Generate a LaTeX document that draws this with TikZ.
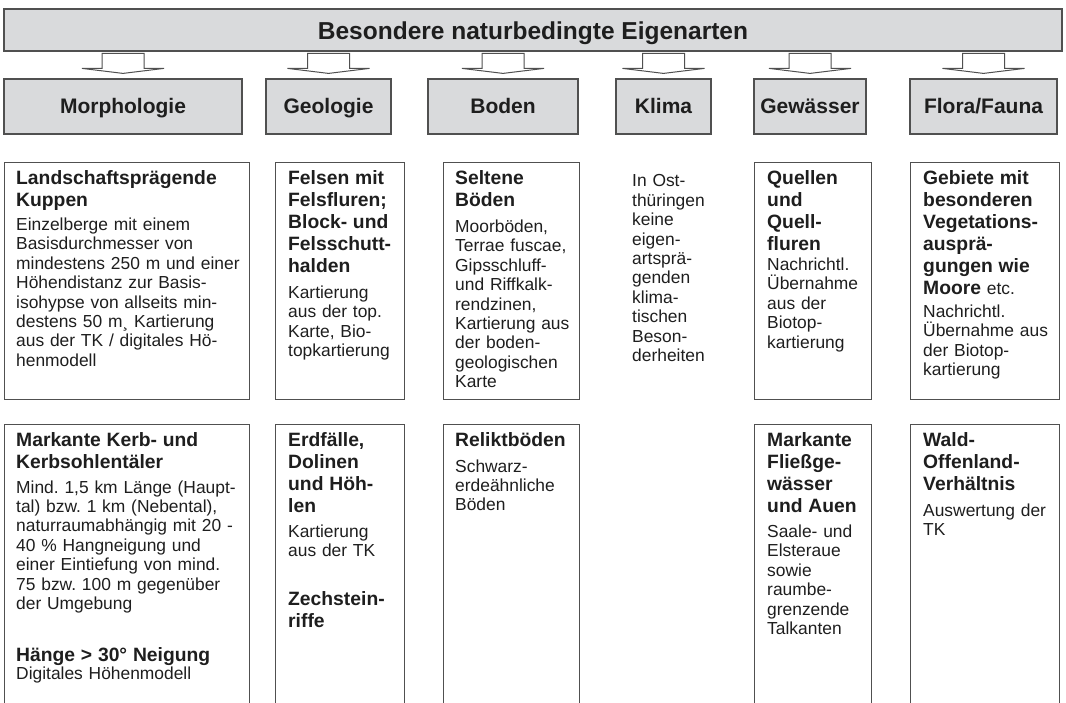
\documentclass[tikz,border=0pt]{standalone}
\usepackage{fontspec}
\setmainfont{Liberation Sans}
\usepackage{xcolor}
\usetikzlibrary{calc, positioning}
\definecolor{kastengrau}{RGB}{217,218,220}
\definecolor{randgrau}{RGB}{80,80,80}
\definecolor{schrift}{RGB}{30,30,30}
\newcommand{\titelschrift}{\fontsize{24.5}{28}\selectfont\bfseries}
\newcommand{\kopfschrift}{\fontsize{21}{25}\selectfont\bfseries}
\newcommand{\ueberschrift}{\fontsize{19.3}{22}\selectfont\bfseries}
\newcommand{\grundschrift}{\fontsize{17.4}{19.4}\selectfont}
\setlength{\parindent}{0pt}
\frenchspacing
\tikzset{
  kopf/.style={draw=randgrau, fill=kastengrau, line width=1.2pt, minimum height=55, inner sep=0,
    text height=16, text depth=3, font=\kopfschrift, text=schrift},
  rahmen/.style={draw=randgrau, line width=1.2pt, anchor=north west, inner sep=0},
  inhalt/.style={anchor=north west, inner sep=0, text width=#1pt, align=left, text=schrift, font=\grundschrift},
  blockpfeil/.style={draw=randgrau, fill=white, line width=1pt, line join=miter}
}

\begin{document}
\begin{tikzpicture}[x=1pt, y=-1pt]
    % Bildausschnitt
    \clip (0,0) rectangle (1066,702);
    % Titel
    \node[kopf, minimum width=1058, minimum height=42, text height=18, text depth=0, font=\titelschrift] (titel) at (533,30) {Besondere naturbedingte Eigenarten};
    % Kopfzeile
    \node[kopf, minimum width=238] (morph) at (123,106.5) {Morphologie};
    \node[kopf, minimum width=125] (geol)  at (328.5,106.5) {Geologie};
    \node[kopf, minimum width=150] (boden) at (503,106.5) {Boden};
    \node[kopf, minimum width=95]  (klima) at (663.5,106.5) {Klima};
    \node[kopf, minimum width=112] (gew)   at (810,106.5) {Gewässer};
    \node[kopf, minimum width=147] (flora) at (983.5,106.5) {Flora/Fauna};
    % Pfeile
    \foreach \k in {morph,geol,boden,klima,gew,flora}
        \draw[blockpfeil] ($(\k.north)+(-21,-25)$) -- ++(42,0) -- ++(0,15) -- ++(20,0)
            -- ($(\k.north)+(0,-5)$) -- ++(-41,-5) -- ++(20,0) -- cycle;
    % Obere Reihe
    \node[rahmen, minimum width=245, minimum height=237] (kuppenbox) at (4,162) {};
    \node[inhalt=231] (kuppen) at ([shift={(12,8)}]kuppenbox.north west)
        {{\ueberschrift Landschaftsprägende\\Kuppen\par}\vspace{5pt}
         Einzelberge mit einem\\Basisdurchmesser von\\mindestens 250 m und einer\\Höhendistanz zur Basis-\\isohypse von allseits min-\\destens 50 m¸ Kartierung\\aus der TK / digitales Hö-\\henmodell};
    \node[rahmen, minimum width=129, minimum height=237] (felsenbox) at (275,162) {};
    \node[inhalt=115] (felsen) at ([shift={(13,8)}]felsenbox.north west)
        {{\ueberschrift Felsen mit\\Felsfluren;\\Block- und\\Felsschutt-\\halden\par}\vspace{7pt}
         Kartierung\\aus der top.\\Karte, Bio-\\topkartierung};
    \node[rahmen, minimum width=136, minimum height=237] (seltenebox) at (443,162) {};
    \node[inhalt=122] (seltene) at ([shift={(12,8)}]seltenebox.north west)
        {{\ueberschrift Seltene\\Böden\par}\vspace{7pt}
         Moorböden,\\Terrae fuscae,\\Gipsschluff-\\und Riffkalk-\\rendzinen,\\Kartierung aus\\der boden-\\geologischen\\Karte};
    \node[inhalt=80] (klimatext) at (632,174.5)
        {In Ost-\\thüringen\\keine\\eigen-\\artsprä-\\genden\\klima-\\tischen\\Beson-\\derheiten};
    \node[rahmen, minimum width=117, minimum height=237] (quellenbox) at (754,162) {};
    \node[inhalt=104] (quellen) at ([shift={(13,8)}]quellenbox.north west)
        {{\ueberschrift Quellen\\und\\Quell-\\fluren\par}\vspace{1pt}
         Nachrichtl.\\Übernahme\\aus der\\Biotop-\\kartierung};
    \node[rahmen, minimum width=149, minimum height=237] (gebietebox) at (910,162) {};
    \node[inhalt=135] (gebiete) at ([shift={(13,8)}]gebietebox.north west)
        {{\ueberschrift Gebiete mit\\besonderen\\Vegetations-\\ausprä-\\gungen wie\\Moore {\mdseries\fontsize{17.4}{22}\selectfont etc.}\par}\vspace{4pt}
         Nachrichtl.\\Übernahme aus\\der Biotop-\\kartierung};
    % Untere Reihe
    \node[rahmen, minimum width=245, minimum height=300] (kerbbox) at (4,424) {};
    \node[inhalt=231] (kerb) at ([shift={(12,8.5)}]kerbbox.north west)
        {{\ueberschrift Markante Kerb- und\\Kerbsohlentäler\par}\vspace{5pt}
         {Mind. 1,5 km Länge (Haupt-\\tal) bzw. 1 km (Nebental),\\naturraumabhängig mit 20 -\\40 \% Hangneigung und\\einer Eintiefung von mind.\\75 bzw. 100 m gegenüber\\der Umgebung\par}\vspace{30pt}
         {\ueberschrift Hänge > 30° Neigung\par}\vspace{-1pt}
         Digitales Höhenmodell};
    \node[rahmen, minimum width=129, minimum height=300] (erdfallbox) at (275,424) {};
    \node[inhalt=115] (erdfall) at ([shift={(13,8.5)}]erdfallbox.north west)
        {{\ueberschrift Erdfälle,\\Dolinen\\und Höh-\\len\par}\vspace{5pt}
         {Kartierung\\aus der TK\par}\vspace{27pt}
         {\ueberschrift Zechstein-\\riffe\par}};
    \node[rahmen, minimum width=136, minimum height=300] (reliktbox) at (443,424) {};
    \node[inhalt=122] (relikt) at ([shift={(12,8.5)}]reliktbox.north west)
        {{\ueberschrift Reliktböden\par}\vspace{6pt}
         Schwarz-\\erdeähnliche\\Böden};
    \node[rahmen, minimum width=117, minimum height=300] (fliessbox) at (754,424) {};
    \node[inhalt=104] (fliess) at ([shift={(13,8.5)}]fliessbox.north west)
        {{\ueberschrift Markante\\Fließge-\\wässer\\und Auen\par}\vspace{5.5pt}
         Saale- und\\Elsteraue\\sowie\\raumbe-\\grenzende\\Talkanten};
    \node[rahmen, minimum width=149, minimum height=300] (waldbox) at (910,424) {};
    \node[inhalt=135] (wald) at ([shift={(13,8.5)}]waldbox.north west)
        {{\ueberschrift Wald-\\Offenland-\\Verhältnis\par}\vspace{6pt}
         Auswertung der\\TK};
\end{tikzpicture}
\end{document}
